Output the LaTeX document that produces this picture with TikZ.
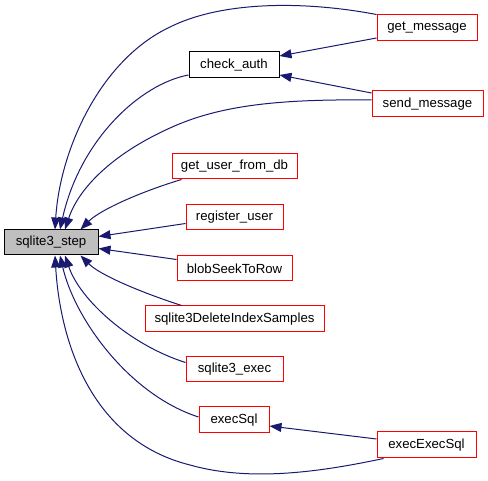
\documentclass[tikz,border=0pt]{standalone}
\usepackage{fontspec}
\setmainfont{Liberation Sans}
\usetikzlibrary{arrows.meta}
\definecolor{edgeblue}{HTML}{191970}
\definecolor{stepgray}{HTML}{BFBFBF}
\tikzset{
  box/.style={draw, line width=1pt, inner sep=0pt, minimum height=26pt, font=\fontsize{13.2}{15}\selectfont, text=black},
  redbox/.style={box, draw=red},
  blackbox/.style={box, draw=black},
  rootbox/.style={box, draw=black, fill=stepgray},
  edge/.style={draw=edgeblue, line width=1pt, -{Triangle[length=12pt,width=9pt]}, edgeblue}
}
\begin{document}
\begin{tikzpicture}[x=1pt,y=-1pt]
\useasboundingbox (0,0) rectangle (488,481);
\node[rootbox, minimum width=94pt, minimum height=25pt] (step) at (51,242.5) {sqlite3\_step};
\node[blackbox, minimum width=90pt] (ca) at (234,65) {check\_auth};
\node[redbox, minimum width=100pt] (gm) at (427,28) {get\_message};
\node[redbox, minimum width=111pt] (sm) at (427.5,104) {send\_message};
\node[redbox, minimum width=125pt, minimum height=25pt] (gu) at (234.5,166.5) {get\_user\_from\_db};
\node[redbox, minimum width=97pt, minimum height=25pt] (rg) at (234.5,217.5) {register\_user};
\node[redbox, minimum width=115pt, minimum height=25pt] (bs) at (234.5,268.5) {blobSeekToRow};
\node[redbox, minimum width=179pt] (di) at (234.5,319) {sqlite3DeleteIndexSamples};
\node[redbox, minimum width=97pt, minimum height=25pt] (ex) at (234.5,369.5) {sqlite3\_exec};
\node[redbox, minimum width=70pt] (es) at (234,420) {execSql};
\node[redbox, minimum width=99pt] (ee) at (426.5,445) {execExecSql};

\draw[edge] (gm.north west) .. controls (300,0) and (220,2) .. (170,27) .. controls (100,60) and (60,150) .. ([xshift=4pt]step.north);
\draw[edge] ([yshift=-10pt]ca.west) .. controls (140,84) and (80,140) .. ([xshift=9pt]step.north);
\draw[edge] ([yshift=4pt]sm.west) .. controls (280,99) and (220,105) .. (170,128) .. controls (110,155) and (78,190) .. ([xshift=14pt]step.north);
\draw[edge] ([xshift=10pt]gu.south west) .. controls (140,192) and (100,210) .. ([xshift=-18pt]step.north east);
\draw[edge] ([yshift=-6pt]rg.west) -- ([yshift=6pt]step.east);
\draw[edge] ([yshift=9pt]bs.west) -- ([yshift=-6pt]step.east);
\draw[edge] ([xshift=37pt]di.north west) .. controls (140,292) and (100,275) .. ([xshift=-18pt]step.south east);
\draw[edge] ([yshift=7pt]ex.west) .. controls (130,345) and (80,300) .. ([xshift=14pt]step.south);
\draw[edge] ([yshift=3pt]es.west) .. controls (130,395) and (75,320) .. ([xshift=9pt]step.south);
\draw[edge] ([xshift=7pt]ee.south west) .. controls (320,472) and (250,482) .. (190,465) .. controls (90,440) and (60,340) .. ([xshift=4pt]step.south);
\draw[edge] ([yshift=-10pt]gm.west) -- ([yshift=9pt]ca.east);
\draw[edge] ([yshift=11pt]sm.west) -- ([yshift=-10pt]ca.east);
\draw[edge] ([yshift=6pt]ee.west) -- ([yshift=-6pt]es.east);
\end{tikzpicture}
\end{document}
